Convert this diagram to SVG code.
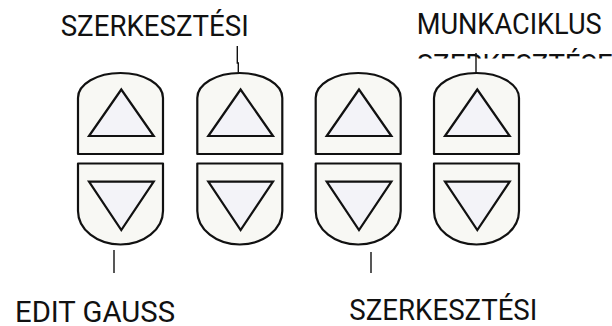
<svg xmlns="http://www.w3.org/2000/svg" width="612" height="326" viewBox="0 0 612 326">
<style>
.btn{fill:#f8f8f4;stroke:#111;stroke-width:2.2;stroke-linejoin:round}
.tri{fill:#f3f3f8;stroke:#111;stroke-width:2.2;stroke-linejoin:miter}
.lbl{font-family:Roboto,"Liberation Sans",sans-serif;font-size:30px;fill:#111}
.lead{stroke:#111;stroke-width:1.4;fill:none}
</style>
<defs>
<g id="pair">
<path class="btn" d="M0,154 V98 A42.5,25 0 0 1 85,98 V154 Z"/>
<path class="tri" d="M43.3,89.5 L11,136 L75.7,136 Z"/>
<path class="btn" d="M0,163.5 H85 V211 A42.5,33.5 0 0 1 0,211 Z"/>
<path class="tri" d="M11,181.7 L75.7,181.7 L43.3,230 Z"/>
</g>
<clipPath id="cut"><rect x="400" y="40" width="212" height="18.5"/></clipPath>
</defs>
<rect width="612" height="326" fill="#ffffff"/>
<g id="btn1"><use href="#pair" x="78" y="0"/></g>
<g id="btn2"><use href="#pair" x="197.3" y="0"/></g>
<g id="btn3"><use href="#pair" x="315.7" y="0"/></g>
<g id="btn4"><use href="#pair" x="434" y="0"/></g>
<g id="connectors">
<polyline class="lead" points="237.3,46 237.3,63 238.3,63 238.3,72.5"/>
<line class="lead" x1="476" y1="53" x2="476" y2="72.5"/>
<line class="lead" x1="114" y1="250" x2="114" y2="273"/>
<line class="lead" x1="371" y1="252" x2="371" y2="273"/>
</g>
<g id="labels">
<text class="lbl" x="60.7" y="36" textLength="188" lengthAdjust="spacingAndGlyphs">SZERKESZTÉSI</text>
<text class="lbl" x="416.7" y="33.5" font-size="28" textLength="185" lengthAdjust="spacingAndGlyphs">MUNKACIKLUS</text>
<g clip-path="url(#cut)"><text class="lbl" x="416.7" y="74.5" textLength="196" lengthAdjust="spacingAndGlyphs">SZERKESZTÉSE</text></g>
<text class="lbl" x="15" y="321.5" textLength="160" lengthAdjust="spacingAndGlyphs">EDIT GAUSS</text>
<text class="lbl" x="349.3" y="320" textLength="188" lengthAdjust="spacingAndGlyphs">SZERKESZTÉSI</text>
</g>
</svg>
